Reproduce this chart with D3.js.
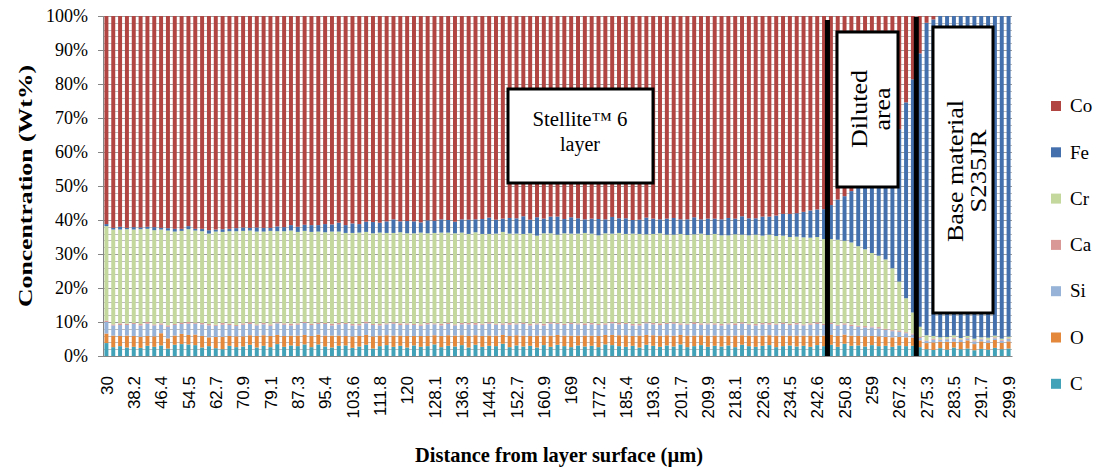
<!DOCTYPE html>
<html>
<head>
<meta charset="utf-8">
<script src="https://cdn.jsdelivr.net/npm/d3@7"></script>
<style>
    body { margin: 0; background: #fff; }
    svg { display: block; }
</style>
</head>
<body>
<div id="chart"></div>
<script>
// distance from layer surface (µm), one bar each
const distance = [
    30, 32, 34.1, 36.1, 38.2, 40.2, 42.3, 44.3, 46.4, 48.4,
    50.4, 52.5, 54.5, 56.6, 58.6, 60.7, 62.7, 64.8, 66.8, 68.8,
    70.9, 72.9, 75, 77, 79.1, 81.1, 83.2, 85.2, 87.3, 89.3,
    91.3, 93.4, 95.4, 97.5, 99.5, 101.6, 103.6, 105.7, 107.7, 109.7,
    111.8, 113.8, 115.9, 117.9, 120, 122, 124.1, 126.1, 128.1, 130.2,
    132.2, 134.3, 136.3, 138.4, 140.4, 142.5, 144.5, 146.5, 148.6, 150.6,
    152.7, 154.7, 156.8, 158.8, 160.9, 162.9, 164.9, 167, 169, 171.1,
    173.1, 175.2, 177.2, 179.3, 181.3, 183.4, 185.4, 187.4, 189.5, 191.5,
    193.6, 195.6, 197.7, 199.7, 201.7, 203.8, 205.8, 207.9, 209.9, 212,
    214, 216.1, 218.1, 220.1, 222.2, 224.2, 226.3, 228.3, 230.4, 232.4,
    234.5, 236.5, 238.5, 240.6, 242.6, 244.7, 246.7, 248.7, 250.8, 252.8,
    254.9, 256.9, 259, 261, 263.1, 265.1, 267.2, 269.2, 271.2, 273.3,
    275.3, 277.4, 279.4, 281.5, 283.5, 285.5, 287.6, 289.6, 291.7, 293.7,
    295.8, 297.8, 299.9
];

const tickLabels = ["30", "38.2", "46.4", "54.5", "62.7", "70.9", "79.1", "87.3", "95.4",
    "103.6", "111.8", "120", "128.1", "136.3", "144.5", "152.7", "160.9", "169", "177.2",
    "185.4", "193.6", "201.7", "209.9", "218.1", "226.3", "234.5", "242.6", "250.8", "259",
    "267.2", "275.3", "283.5", "291.7", "299.9"];

// Wt% per element
const carbon = [
    3.8, 2.6, 2.9, 2.5, 2.7, 2.4, 3.0, 2.7, 3.1, 2.2,
    3.3, 3.5, 3.4, 3.2, 2.5, 2.9, 2.3, 2.0, 3.0, 2.6,
    2.8, 3.3, 2.5, 3.0, 2.6, 3.5, 2.7, 3.1, 2.9, 3.4,
    2.6, 3.4, 2.8, 2.5, 3.0, 3.1, 2.4, 2.8, 3.3, 2.2,
    2.9, 3.2, 2.7, 3.0, 2.5, 3.1, 2.7, 2.9, 3.4, 2.6,
    3.0, 2.8, 3.2, 2.5, 3.3, 2.7, 3.0, 2.9, 3.6, 2.6,
    3.1, 2.8, 3.0, 2.5, 3.2, 2.7, 3.3, 2.9, 2.6, 3.1,
    2.8, 3.0, 2.6, 3.4, 3.2, 2.9, 2.7, 3.0, 2.5, 3.3,
    3.0, 2.7, 3.1, 2.8, 3.4, 2.6, 2.9, 3.2, 2.7, 3.0,
    2.8, 3.1, 2.6, 3.3, 2.9, 2.7, 3.0, 3.2, 2.6, 2.9,
    3.1, 2.8, 3.0, 2.7, 3.2, 2.9, 3.3, 2.7, 3.6, 3.0,
    3.1, 2.8, 3.2, 2.9, 3.0, 2.7, 3.1, 2.9, 3.0,
    2.6, 2.0, 1.8, 2.3, 1.9, 2.5, 2.0, 2.2, 1.7, 2.1, 1.9, 2.4, 2.0, 2.2
];
const oxygen = [
    2.8, 3.4, 3.0, 3.5, 3.2, 3.3, 2.9, 3.1, 3.6, 3.0,
    2.7, 3.0, 2.8, 3.1, 3.4, 2.6, 3.3, 3.7, 2.9, 3.2,
    3.0, 2.8, 3.4, 3.1, 3.3, 2.7, 3.2, 2.9, 3.1, 2.8,
    3.3, 2.9, 3.2, 3.5, 3.0, 2.8, 3.4, 3.1, 2.9, 3.6,
    3.1, 2.9, 3.3, 3.0, 3.4, 2.8, 3.2, 3.0, 2.7, 3.3,
    3.1, 3.2, 2.9, 3.4, 2.8, 3.2, 3.0, 3.1, 2.6, 3.3,
    3.0, 3.2, 2.9, 3.5, 2.8, 3.3, 2.9, 3.1, 3.4, 2.9,
    3.2, 3.0, 3.3, 2.8, 3.0, 3.2, 3.4, 2.9, 3.5, 2.9,
    3.1, 3.3, 3.0, 3.2, 2.8, 3.4, 3.1, 2.9, 3.3, 3.0,
    3.2, 2.9, 3.4, 2.8, 3.1, 3.3, 3.0, 2.9, 3.4, 3.1,
    2.9, 3.2, 3.0, 3.3, 2.8, 3.1, 2.9, 3.2, 2.7, 3.0,
    2.8, 3.0, 2.7, 2.9, 2.6, 2.8, 2.5, 2.6, 2.4,
    2.0, 1.8, 2.2, 1.9, 2.3, 1.7, 2.1, 2.4, 1.8, 2.2, 2.0, 2.3, 1.9, 2.1
];
const silicon = [
    3.4, 3.0, 3.2, 3.1, 3.5, 3.3, 3.6, 3.2, 2.5, 3.4,
    3.1, 2.9, 3.3, 3.2, 3.4, 3.5, 3.3, 3.5, 3.2, 3.0,
    3.4, 3.3, 3.1, 3.2, 3.0, 3.4, 3.3, 3.0, 3.2, 3.5,
    3.2, 3.1, 3.4, 3.0, 3.3, 3.5, 3.2, 3.1, 3.4, 3.3,
    3.0, 3.2, 3.5, 3.1, 3.3, 3.2, 3.0, 3.4, 3.2, 3.1,
    3.3, 3.0, 3.2, 3.4, 3.1, 3.3, 3.5, 3.2, 3.0, 3.3,
    3.2, 3.4, 3.1, 3.3, 3.0, 3.5, 3.2, 3.1, 3.4, 3.3,
    3.1, 3.3, 3.2, 3.0, 3.4, 3.2, 3.3, 3.1, 3.0, 3.4,
    3.2, 3.1, 3.3, 3.5, 3.0, 3.2, 3.4, 3.1, 3.3, 3.2,
    3.0, 3.3, 3.1, 3.4, 3.2, 3.0, 3.3, 3.1, 3.2, 3.4,
    3.1, 3.3, 3.0, 3.2, 3.4, 3.1, 3.2, 3.0, 2.9, 2.8,
    2.7, 2.6, 2.5, 2.3, 2.1, 1.8, 1.5, 1.2, 0.9,
    0.7, 0.6, 0.8, 0.5, 0.7, 0.9, 0.6, 0.5, 0.8, 0.6, 0.7, 0.5, 0.6, 0.7
];
const calcium = [
    0.4, 0.3, 0.5, 0.4, 0.3, 0.4, 0.5, 0.3, 0.4, 0.4,
    0.3, 0.4, 0.5, 0.3, 0.4, 0.4, 0.3, 0.5, 0.4, 0.3,
    0.4, 0.5, 0.3, 0.4, 0.4, 0.3, 0.4, 0.5, 0.4, 0.3,
    0.4, 0.4, 0.3, 0.5, 0.4, 0.3, 0.4, 0.4, 0.5, 0.3,
    0.4, 0.3, 0.4, 0.5, 0.4, 0.3, 0.4, 0.4, 0.3, 0.5,
    0.4, 0.3, 0.4, 0.4, 0.5, 0.3, 0.4, 0.3, 0.4, 0.5,
    0.3, 0.4, 0.4, 0.3, 0.5, 0.4, 0.3, 0.4, 0.4, 0.3,
    0.5, 0.4, 0.3, 0.4, 0.4, 0.5, 0.3, 0.4, 0.4, 0.3,
    0.4, 0.5, 0.3, 0.4, 0.4, 0.3, 0.5, 0.4, 0.3, 0.4,
    0.4, 0.3, 0.5, 0.4, 0.3, 0.4, 0.4, 0.5, 0.3, 0.4,
    0.4, 0.4, 0.3, 0.4, 0.5, 0.4, 0.4, 0.3, 0.4, 0.4,
    0.3, 0.4, 0.3, 0.4, 0.3, 0.3, 0.4, 0.3, 0.3,
    0.3, 0.2, 0.3, 0.2, 0.2, 0.3, 0.2, 0.2, 0.3, 0.2, 0.2, 0.3, 0.2, 0.2
];
const chromium = [
    27.8, 27.9, 27.6, 27.8, 27.5, 27.9, 27.4, 27.7, 27.6, 27.9,
    27.2, 27.0, 27.3, 27.1, 27.0, 26.6, 27.4, 26.8, 27.2, 27.6,
    27.2, 27.0, 27.3, 26.9, 27.5, 26.8, 27.1, 27.4, 26.9, 26.8,
    27.0, 26.8, 26.7, 27.1, 26.9, 26.5, 26.8, 26.9, 26.4, 26.7,
    26.9, 26.6, 26.3, 26.8, 26.5, 26.7, 27.0, 26.4, 26.6, 26.8,
    26.5, 26.8, 26.6, 26.2, 26.7, 26.4, 26.0, 26.5, 26.9, 26.3,
    26.4, 26.1, 26.7, 25.8, 26.6, 26.2, 26.0, 26.6, 26.2, 26.4,
    26.6, 26.3, 26.1, 26.5, 26.0, 26.4, 26.2, 26.6, 26.5, 25.9,
    26.2, 26.5, 26.0, 25.8, 26.3, 26.1, 25.9, 26.4, 26.0, 26.3,
    26.1, 25.9, 26.2, 25.8, 26.0, 26.3, 25.7, 26.0, 25.8, 25.6,
    25.5, 25.4, 25.6, 25.2, 25.1, 24.9, 24.6, 25.0, 24.3, 24.2,
    23.4, 22.6, 21.6, 21.0, 20.4, 18.2, 14.4, 10.0, 6.2,
    3.0, 1.5, 0.8, 0.6, 0.5, 0.7, 0.4, 0.6, 0.5, 0.4, 0.6, 0.5, 0.4, 0.5
];
const iron = [
    0.6, 0.5, 0.8, 0.4, 0.7, 0.5, 0.6, 0.9, 0.5, 0.7,
    0.8, 0.6, 0.9, 0.5, 0.7, 1.0, 0.6, 0.8, 0.7, 0.9,
    1.0, 0.8, 1.2, 1.1, 0.9, 1.4, 1.2, 1.6, 1.5, 1.8,
    2.0, 1.9, 2.4, 2.1, 2.6, 2.3, 2.8, 2.5, 3.0, 3.3,
    2.9, 3.4, 4.0, 3.2, 3.6, 3.5, 3.0, 3.8, 3.6, 3.9,
    3.7, 3.4, 3.9, 4.2, 3.8, 4.4, 4.8, 4.1, 3.9, 4.6,
    4.5, 5.2, 4.0, 5.4, 4.3, 4.9, 5.3, 4.2, 4.8, 4.5,
    4.0, 4.4, 4.8, 4.1, 4.9, 4.3, 4.6, 4.0, 4.2, 4.9,
    4.5, 4.1, 4.7, 4.9, 4.3, 4.6, 5.0, 4.2, 4.8, 4.5,
    4.7, 5.1, 4.6, 5.4, 5.0, 4.8, 5.6, 5.3, 6.0, 6.4,
    6.8, 6.9, 7.5, 8.0, 8.1, 8.8, 10.0, 11.8, 13.1, 15.1,
    17.7, 20.6, 24.2, 27.5, 31.6, 37.2, 44.8, 57.6, 68.6,
    80.4, 91.9, 93.1, 94.5, 94.4, 93.9, 94.7, 94.1, 94.9, 94.5, 94.6, 94.0, 94.9, 94.3
];
const cobalt = [
    61.2, 62.3, 62.0, 62.3, 62.1, 62.2, 62.0, 62.1, 62.3, 62.4,
    62.6, 62.6, 61.8, 62.6, 62.6, 63.0, 62.8, 62.7, 62.6, 62.4,
    62.2, 62.3, 62.2, 62.3, 62.3, 61.9, 62.1, 61.5, 62.0, 61.4,
    61.5, 61.5, 61.2, 61.3, 60.8, 61.5, 61.0, 61.2, 60.5, 60.6,
    60.8, 60.4, 59.8, 60.4, 60.3, 60.4, 60.7, 60.1, 60.2, 59.8,
    60.0, 60.5, 59.8, 59.9, 59.8, 59.7, 59.3, 59.9, 59.6, 59.4,
    59.5, 58.9, 59.9, 59.2, 59.6, 59.0, 59.0, 59.7, 59.2, 59.5,
    59.8, 59.6, 59.7, 59.8, 59.1, 59.5, 59.5, 60.0, 59.9, 59.3,
    59.6, 59.8, 59.6, 59.4, 59.8, 59.8, 59.2, 59.8, 59.6, 59.6,
    59.8, 59.4, 59.6, 58.9, 59.5, 59.5, 59.0, 59.0, 58.7, 58.2,
    58.2, 58.0, 57.6, 57.2, 56.9, 56.8, 55.6, 54.0, 53.0, 51.5,
    50.0, 48.0, 45.5, 43.0, 40.0, 37.0, 33.3, 25.4, 18.6,
    11.0, 2.0, 1.0, 0, 0, 0, 0, 0, 0, 0, 0, 0, 0, 0
];

// first bar of the diluted area and of the base material
const zoneStarts = [246.7, 273.3];

const elements = ["C", "O", "Si", "Ca", "Cr", "Fe", "Co"];
const colors = {
    "C": "#41A2B8",
    "O": "#E4883C",
    "Si": "#97B3D8",
    "Ca": "#D99896",
    "Cr": "#C4D79D",
    "Fe": "#4471AE",
    "Co": "#B04542"
};

const width = 1097, height = 469;
const plot = {left: 103, right: 1012, top: 16, bottom: 356};
const serif = '"Liberation Serif", "Times New Roman", serif';
const sans = '"Liberation Sans", Arial, sans-serif';

const rows = distance.map((d, i) => ({
    distance: d,
    C: carbon[i], O: oxygen[i], Si: silicon[i], Ca: calcium[i],
    Cr: chromium[i], Fe: iron[i], Co: cobalt[i]
}));

const series = d3.stack()
    .keys(elements)
    .offset(d3.stackOffsetExpand)(rows);

const svg = d3.select("#chart").append("svg")
    .attr("width", width)
    .attr("height", height);

const x = d3.scaleBand()
    .domain(distance)
    .range([plot.left, plot.right])
    .paddingInner(0.42)
    .paddingOuter(0.21);

const y = d3.scaleLinear()
    .domain([0, 1])
    .range([plot.bottom, plot.top]);

// gridlines every 2%, a bit darker every 10%
svg.append("g")
    .selectAll("line")
    .data(d3.range(0, 51))
    .enter().append("line")
    .attr("x1", plot.left)
    .attr("x2", plot.right)
    .attr("y1", d => Math.round(y(d / 50)) + 0.5)
    .attr("y2", d => Math.round(y(d / 50)) + 0.5)
    .attr("stroke", d => d % 5 === 0 ? "#9a9a9a" : "#bdbdbd")
    .attr("stroke-width", 1);

// stacked bars
svg.append("g")
    .selectAll("g")
    .data(series)
    .enter().append("g")
    .attr("fill", s => colors[s.key])
    .selectAll("rect")
    .data(s => s)
    .enter().append("rect")
    .attr("x", d => x(d.data.distance))
    .attr("width", x.bandwidth())
    .attr("y", d => y(d[1]))
    .attr("height", d => Math.max(0, y(d[0]) - y(d[1])));

// y axis
const yAxis = svg.append("g")
    .attr("transform", `translate(${plot.left},0)`)
    .call(d3.axisLeft(y)
        .tickValues(d3.range(0, 11).map(i => i / 10))
        .tickFormat(d3.format(".0%"))
        .tickSize(5)
        .tickPadding(10));
yAxis.select(".domain").attr("stroke", "#868686");
yAxis.selectAll(".tick line").attr("stroke", "#868686");
yAxis.selectAll(".tick text")
    .attr("font-family", serif)
    .attr("font-size", 18)
    .attr("fill", "#000");

// x axis, labels on every 4th bar
const xAxis = svg.append("g")
    .attr("transform", `translate(0,${plot.bottom})`)
    .call(d3.axisBottom(x)
        .tickValues(tickLabels.map(Number))
        .tickFormat((d, i) => tickLabels[i])
        .tickSize(0));
xAxis.select(".domain").attr("stroke", "#868686");
xAxis.selectAll(".tick text")
    .attr("transform", "rotate(-90)")
    .attr("text-anchor", "end")
    .attr("x", -20)
    .attr("y", 0)
    .attr("dy", "0.36em")
    .attr("font-family", sans)
    .attr("font-size", 17)
    .attr("fill", "#000");

// axis titles
svg.append("text")
    .attr("transform", "translate(32,186) rotate(-90)")
    .attr("text-anchor", "middle")
    .attr("font-family", serif)
    .attr("font-weight", "bold")
    .attr("font-size", 19)
    .attr("textLength", 242)
    .attr("lengthAdjust", "spacingAndGlyphs")
    .text("Concentration (Wt%)");

svg.append("text")
    .attr("x", 559)
    .attr("y", 462)
    .attr("text-anchor", "middle")
    .attr("font-family", serif)
    .attr("font-weight", "bold")
    .attr("font-size", 22)
    .attr("textLength", 288)
    .attr("lengthAdjust", "spacingAndGlyphs")
    .text("Distance from layer surface (µm)");

// zone separators
const gap = x.step() - x.bandwidth();
svg.append("g")
    .selectAll("line")
    .data(zoneStarts)
    .enter().append("line")
    .attr("x1", d => x(d) - gap / 2)
    .attr("x2", d => x(d) - gap / 2)
    .attr("y1", (d, i) => i === 0 ? 20 : 17)
    .attr("y2", plot.bottom)
    .attr("stroke", "#000")
    .attr("stroke-width", 5);

// annotation boxes
function box(x0, y0, w, h) {
    svg.append("rect")
        .attr("x", x0).attr("y", y0)
        .attr("width", w).attr("height", h)
        .attr("fill", "#fff")
        .attr("stroke", "#000")
        .attr("stroke-width", 3);
}

function label(text, tx, ty, size, len, rotate) {
    const t = svg.append("text")
        .attr("transform", `translate(${tx},${ty})` + (rotate ? " rotate(-90)" : ""))
        .attr("text-anchor", "middle")
        .attr("font-family", serif)
        .attr("font-size", size)
        .attr("fill", "#000")
        .text(text);
    if (len) t.attr("textLength", len).attr("lengthAdjust", "spacingAndGlyphs");
}

box(508, 89, 145, 94);
label("Stellite™ 6", 580, 126, 20, 95);
label("layer", 580, 151, 20, null);

box(837, 32, 61, 155);
label("Diluted", 867, 109, 23, 78, true);
label("area", 890, 109, 23, 43, true);

box(933, 27, 60, 286);
label("Base material", 963, 171, 23, 142, true);
label("S235JR", 986, 171, 23, 83, true);

// legend, top element first
const legend = svg.append("g")
    .selectAll("g")
    .data(elements.slice().reverse())
    .enter().append("g")
    .attr("transform", (d, i) => `translate(1051,${106 + i * 46.3})`);

legend.append("rect")
    .attr("x", 0)
    .attr("y", -5)
    .attr("width", 10)
    .attr("height", 10)
    .attr("fill", d => colors[d]);

legend.append("text")
    .attr("x", 19)
    .attr("dy", "0.33em")
    .attr("font-family", serif)
    .attr("font-size", 19)
    .attr("fill", "#000")
    .text(d => d);
</script>
</body>
</html>
